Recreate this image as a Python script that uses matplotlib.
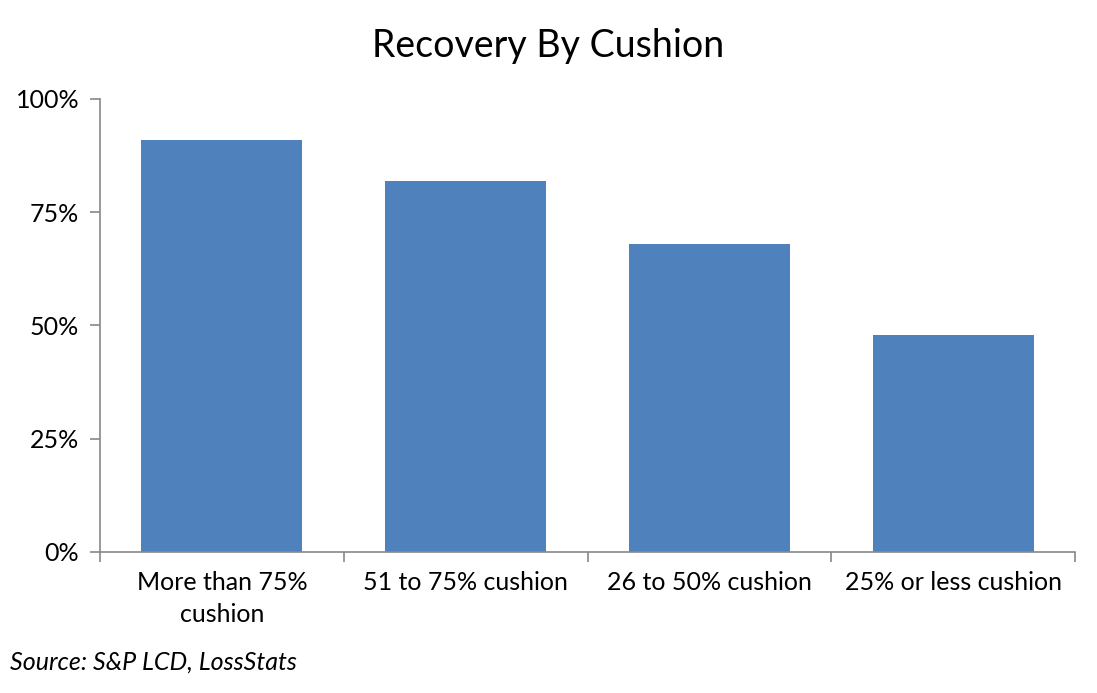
import matplotlib
matplotlib.use("Agg")
import matplotlib.pyplot as plt
from matplotlib.ticker import FuncFormatter, FixedLocator

categories = ["More than 75%\ncushion", "51 to 75% cushion", "26 to 50% cushion", "25% or less cushion"]
recovery = [91, 82, 68, 48]
yticks = [0, 25, 50, 75, 100]

plt.rcParams['font.family'] = ['Lato', 'DejaVu Sans']

fig = plt.figure(figsize=(10.97, 6.93), dpi=100)
ax = fig.add_axes([0.0912, 0.2035, 0.889, 0.6537])

x = list(range(len(categories)))
ax.bar(x, recovery, width=0.66, color="#4F81BD", zorder=2)

ax.set_xlim(-0.5, len(categories) - 0.5)
ax.set_ylim(0, 100)
ax.set_yticks(yticks)
ax.yaxis.set_major_formatter(FuncFormatter(lambda v, p: f"{int(v)}%"))

ax.set_xticks(x)
ax.set_xticklabels(categories, fontsize=18, linespacing=1.45)
ax.xaxis.set_minor_locator(FixedLocator([i + 0.5 for i in range(-1, len(categories))]))
ax.tick_params(axis='x', which='major', length=0, pad=14)
ax.tick_params(axis='x', which='minor', length=7, width=1.2, color="#888888", direction='out')
ax.tick_params(axis='y', length=7, width=1.2, color="#888888", direction='out', labelsize=18, pad=8)

for s in ['top', 'right']:
    ax.spines[s].set_visible(False)
for s in ['left', 'bottom']:
    ax.spines[s].set_color("#888888")
    ax.spines[s].set_linewidth(1.2)

fig.text(0.5, 0.933, "Recovery By Cushion", ha='center', va='center', fontsize=27)
fig.text(0.009, 0.044, "Source: S&P LCD, LossStats", ha='left', va='center', fontsize=18, style='italic')

fig.savefig("out.png", dpi=100)
